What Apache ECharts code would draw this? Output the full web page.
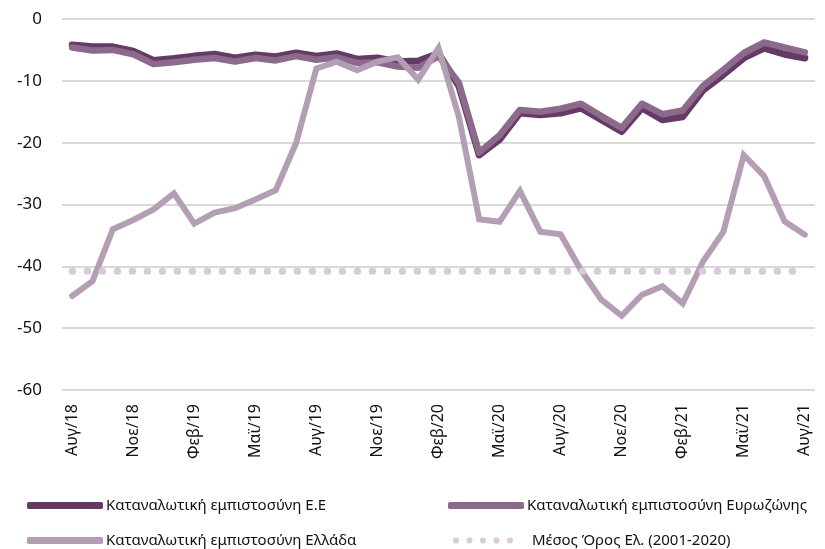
<!DOCTYPE html>
<html>
<head>
<meta charset="utf-8">
<script src="https://cdn.jsdelivr.net/npm/echarts@6/dist/echarts.min.js"></script>
<style>
  html, body { margin: 0; padding: 0; background: #fff; }
  #chart { width: 825px; height: 549px; }
</style>
</head>
<body>
<div id="chart"></div>
<script>
// μήνες Αυγ/18 - Αυγ/21
const months = [
  "Αυγ/18", "Σεπ/18", "Οκτ/18", "Νοε/18", "Δεκ/18", "Ιαν/19", "Φεβ/19", "Μαρ/19", "Απρ/19",
  "Μαϊ/19", "Ιουν/19", "Ιουλ/19", "Αυγ/19", "Σεπ/19", "Οκτ/19", "Νοε/19", "Δεκ/19", "Ιαν/20",
  "Φεβ/20", "Μαρ/20", "Απρ/20", "Μαϊ/20", "Ιουν/20", "Ιουλ/20", "Αυγ/20", "Σεπ/20", "Οκτ/20",
  "Νοε/20", "Δεκ/20", "Ιαν/21", "Φεβ/21", "Μαρ/21", "Απρ/21", "Μαϊ/21", "Ιουν/21", "Ιουλ/21",
  "Αυγ/21"
];

const euValues = [
  -4.2, -4.5, -4.5, -5.2, -6.7, -6.4, -6.0, -5.7, -6.3, -5.8, -6.1, -5.5, -6.0,
  -5.6, -6.5, -6.3, -6.9, -6.8, -5.6, -10.8, -22.0, -19.5, -15.2, -15.5, -15.2,
  -14.4, -16.3, -18.2, -14.4, -16.3, -15.8, -11.5, -9.0, -6.3, -4.7, -5.7, -6.3
];

const euroValues = [
  -4.6, -5.1, -5.0, -5.7, -7.3, -7.0, -6.6, -6.3, -6.9, -6.3, -6.7, -6.0, -6.6,
  -6.2, -7.1, -7.0, -7.7, -7.9, -6.0, -10.3, -21.6, -18.8, -14.7, -15.0, -14.5,
  -13.7, -15.7, -17.6, -13.7, -15.4, -14.8, -10.8, -8.2, -5.5, -3.8, -4.6, -5.4
];

const greeceValues = [
  -44.8, -42.4, -34.0, -32.5, -30.8, -28.2, -33.1, -31.3, -30.6, -29.2, -27.7, -20.1, -8.0,
  -6.9, -8.3, -6.9, -6.2, -9.8, -4.7, -15.8, -32.4, -32.8, -27.8, -34.4, -34.8,
  -40.6, -45.4, -48.0, -44.6, -43.2, -46.0, -39.2, -34.4, -22.0, -25.4, -32.7, -34.9
];

const avgValue = -40.8;
const avgValues = months.map(() => avgValue);

const yTicks = { min: -60, max: 0, interval: 10 };

const names = [
  "Καταναλωτική εμπιστοσύνη Ε.Ε",
  "Καταναλωτική εμπιστοσύνη Ευρωζώνης",
  "Καταναλωτική εμπιστοσύνη Ελλάδα",
  "Μέσος Όρος Ελ. (2001-2020)"
];
const colors = ["#653a66", "#8c6a8b", "#b49eb5", "#dac9da"];

const font = "'Noto Sans', sans-serif";

// πέντε κουκκίδες για το υπόμνημα του μέσου όρου
const dotsIcon = "path://M0,3A3,3 0 1,0 6,3A3,3 0 1,0 0,3Z" +
  "M13.5,3A3,3 0 1,0 19.5,3A3,3 0 1,0 13.5,3Z" +
  "M27,3A3,3 0 1,0 33,3A3,3 0 1,0 27,3Z" +
  "M40.5,3A3,3 0 1,0 46.5,3A3,3 0 1,0 40.5,3Z" +
  "M54,3A3,3 0 1,0 60,3A3,3 0 1,0 54,3Z";

const chart = echarts.init(document.getElementById("chart"));

function legendAt(i, left, top, icon, w, h, pad) {
  return {
    data: [{ name: names[i], icon: icon, itemStyle: { color: colors[i] } }],
    left: left,
    top: top,
    itemWidth: w,
    itemHeight: h,
    itemGap: 0,
    selectedMode: false,
    textStyle: { fontFamily: font, fontSize: 15, color: "#111", padding: [0, 0, 0, pad] }
  };
}

const options = {
  animation: false,
  color: colors,
  grid: { left: 62, right: 10, top: 19, bottom: 159, containLabel: false },
  legend: [
    legendAt(0, 22, 493, "roundRect", 76, 7, -2),
    legendAt(1, 443, 493, "roundRect", 76, 7, -2),
    legendAt(2, 22, 528, "roundRect", 76, 7, -2),
    legendAt(3, 448, 528, dotsIcon, 60, 6, 14)
  ],
  xAxis: {
    type: "category",
    data: months,
    boundaryGap: true,
    axisLine: { show: false },
    axisTick: { show: false },
    axisLabel: {
      interval: 2,
      rotate: 90,
      margin: 14,
      fontFamily: font,
      fontSize: 16,
      color: "#111"
    }
  },
  yAxis: {
    type: "value",
    min: yTicks.min,
    max: yTicks.max,
    interval: yTicks.interval,
    axisLine: { show: false },
    axisTick: { show: false },
    splitLine: { lineStyle: { color: "#d9d9d9", width: 2 } },
    axisLabel: { margin: 20, fontFamily: font, fontSize: 17, color: "#111" }
  },
  series: [
    {
      name: names[0],
      type: "line",
      data: euValues,
      symbol: "none",
      lineStyle: { width: 7, color: colors[0], cap: "round", join: "round" }
    },
    {
      name: names[1],
      type: "line",
      data: euroValues,
      symbol: "none",
      lineStyle: { width: 6.5, color: colors[1], cap: "round", join: "round" }
    },
    {
      name: names[2],
      type: "line",
      data: greeceValues,
      symbol: "none",
      lineStyle: { width: 6, color: colors[2], cap: "round", join: "miter" }
    },
    {
      name: names[3],
      type: "line",
      data: avgValues,
      symbol: "none",
      lineStyle: { width: 7, color: colors[3], type: [0.5, 14.5], cap: "round" }
    }
  ]
};

chart.setOption(options);
window.addEventListener("resize", () => {
  chart.resize();
});
</script>
</body>
</html>
